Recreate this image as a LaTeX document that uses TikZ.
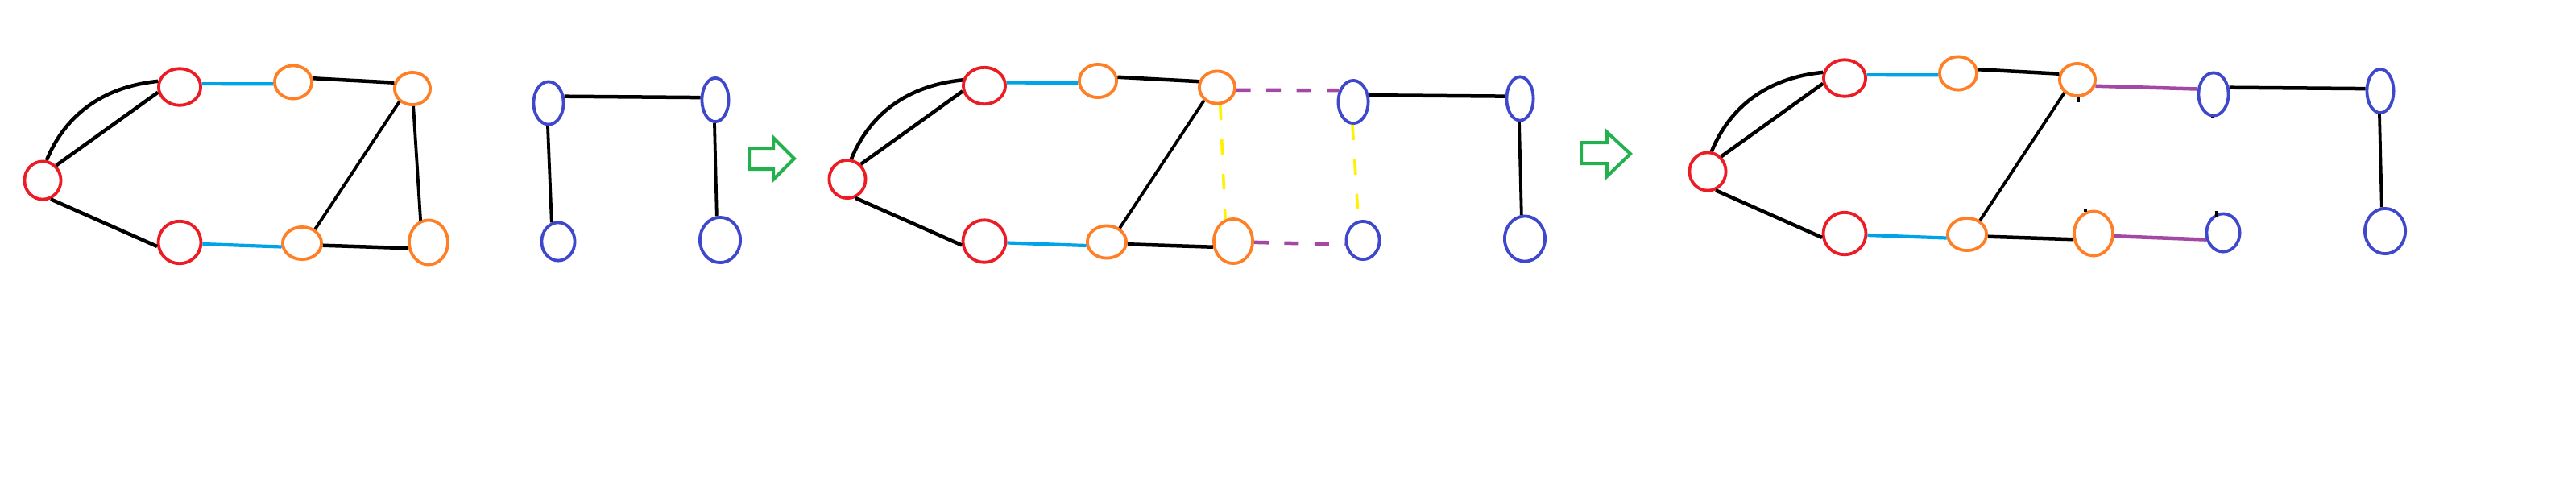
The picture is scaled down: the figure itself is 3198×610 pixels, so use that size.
\documentclass[tikz,border=0pt]{standalone}
\usepackage{xcolor}
\usepackage{tikz}
\usetikzlibrary{shapes.geometric}
\definecolor{pntred}{HTML}{ED1C24}
\definecolor{pntorange}{HTML}{FF7F27}
\definecolor{pntindigo}{HTML}{3F48CC}
\definecolor{pntsky}{HTML}{00A2E8}
\definecolor{pntpurple}{HTML}{A349A4}
\definecolor{pntyellow}{HTML}{FFF200}
\definecolor{pntgreen}{HTML}{22B14C}
\tikzset{
  vtx/.style={ellipse, line width=0.38mm, inner sep=0pt, fill=white},
  rednode/.style={vtx, draw=pntred},
  orangenode/.style={vtx, draw=pntorange},
  bluenode/.style={vtx, draw=pntindigo},
  blackedge/.style={line width=0.45mm, draw=black},
  thinedge/.style={line width=0.38mm, draw=black},
  skyedge/.style={line width=0.42mm, draw=pntsky},
  joinedge/.style={line width=0.45mm, draw=pntpurple},
  joindash/.style={line width=0.45mm, draw=pntpurple, dash pattern=on 1.8mm off 1.95mm},
  matchdash/.style={line width=0.36mm, draw=pntyellow, dash pattern=on 1.9mm off 2.4mm},
  stagearrow/.style={line width=0.4mm, draw=pntgreen, line join=miter}
}

\begin{document}
\begin{tikzpicture}[x=0.1mm, y=-0.1mm]
  \useasboundingbox (0,0) rectangle (3198,610);

  % the same graph three times
  \foreach \p/\dx/\dy in {a/0/0, b/999/-1.5, c/2067/-11} {
    \begin{scope}[shift={(\dx,\dy)}]
      \node[rednode, minimum width=4.52mm, minimum height=4.72mm] (\p-r0) at (53,224) {};
      \node[rednode, minimum width=5.22mm, minimum height=4.55mm] (\p-r1) at (223,108) {};
      \node[rednode, minimum width=5.3mm, minimum height=5.25mm] (\p-r2) at (223,301) {};
      \node[orangenode, minimum width=4.62mm, minimum height=4.12mm] (\p-o1) at (364,102) {};
      \node[orangenode, minimum width=4.42mm, minimum height=4.02mm] (\p-o2) at (512,110) {};
      \node[orangenode, minimum width=4.82mm, minimum height=4.02mm] (\p-o3) at (375,302) {};
      \node[orangenode, minimum width=4.82mm, minimum height=5.52mm] (\p-o4) at (532,301) {};
      \node[bluenode, minimum width=3.72mm, minimum height=5.32mm] (\p-b1) at (681,128) {};
      \node[bluenode, minimum width=3.32mm, minimum height=5.42mm] (\p-b2) at (888,124) {};
      \node[bluenode, minimum width=4.12mm, minimum height=4.72mm] (\p-b3) at (693,300) {};
      \node[bluenode, minimum width=5.02mm, minimum height=5.62mm] (\p-b4) at (894,298) {};

      \draw[blackedge] (\p-r0.79) .. controls (80,145) and (125,108) .. (\p-r1.165);
      \draw[blackedge] (\p-r0.48) -- (\p-r1.194);
      \draw[blackedge] (\p-r0.-67) -- (\p-r2.190);
      \draw[skyedge] (\p-r1.8) -- (\p-o1.185);
      \draw[skyedge] (\p-r2.-4) -- (\p-o3.190);
      \draw[blackedge] (\p-o1.11) -- (\p-o2.162);
      \draw[blackedge] (\p-o3.-6) -- (\p-o4.196);
      \draw[thinedge] (\p-o2.225) -- (\p-o3.47);
      \draw[blackedge] (\p-b1.23) -- (\p-b2.171);
      \draw[thinedge] (\p-b2.-92) -- (\p-b4.98);
    \end{scope}
  }

  % before
  \draw[thinedge] (a-o2.-87) -- (a-o4.110);
  \draw[thinedge] (a-b1.-92) -- (a-b3.109);

  % matching
  \draw[matchdash] (b-o2.-80) -- (b-o4.110);
  \draw[matchdash] (b-b1.-92) -- (b-b3.103);
  \draw[joindash] (b-o2.-8) -- (b-b1.141);
  \draw[joindash] (b-o4.-3) -- (b-b3.193);

  % after
  \draw[joinedge] (c-o2.-19) -- (c-b1.162);
  \draw[joinedge] (c-o4.-7) -- (c-b3.202);
  \draw[thinedge] (c-o2.-87) -- ++(0,6);
  \draw[thinedge] (c-o4.110) -- ++(0,-3);
  \draw[thinedge] ([yshift=0.3mm]c-b3.108) -- ++(0,7);
  \draw[thinedge] (c-b1.-92) -- ++(0,2);

  \draw[stagearrow] (930,184) -- (960,184) -- (960,171) -- (986,197)
    -- (960,223) -- (960,210) -- (930,210) -- cycle;
  \draw[stagearrow] (1963,177) -- (1995,177) -- (1995,164) -- (2024,191)
    -- (1995,219) -- (1995,203) -- (1963,203) -- cycle;
\end{tikzpicture}
\end{document}
